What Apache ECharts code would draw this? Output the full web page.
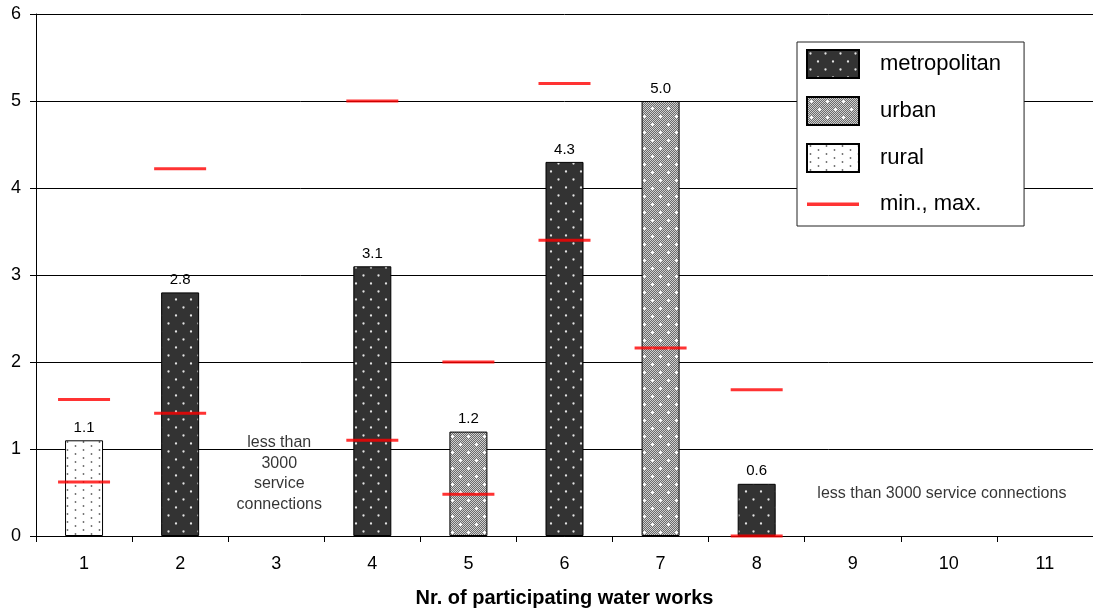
<!DOCTYPE html>
<html>
<head>
<meta charset="utf-8">
<script src="https://cdn.jsdelivr.net/npm/echarts@6/dist/echarts.min.js"></script>
<style>
  html, body { margin: 0; padding: 0; background: #fff; }
  #chart { width: 1093px; height: 610px; }
</style>
</head>
<body>
<div id="chart"></div>
<script>
// Categories: number of the participating water works
const categories = ['1', '2', '3', '4', '5', '6', '7', '8', '9', '10', '11'];

// Bar heights per size class (null where the class does not apply)
const metropolitan = [null, 2.8, null, 3.1, null, 4.3, null, 0.6, null, null, null];
const urban        = [null, null, null, null, 1.2, null, 5.0, null, null, null, null];
const rural        = [1.1, null, null, null, null, null, null, null, null, null, null];

// Range markers
const minValues = [0.62, 1.41, null, 1.10, 0.48, 3.40, 2.16, 0.0, null, null, null];
const maxValues = [1.57, 4.22, null, 5.00, 2.00, 5.20, null, 1.68, null, null, null];

// Notes for works below the size threshold
const notes = [
  { cat: '3', value: 0.72, text: 'less than\n3000\nservice\nconnections' },
  { cat: '10', value: 0.49, text: 'less than 3000 service connections' }
];

const FONT = 'Liberation Sans, Arial, Helvetica, sans-serif';

function makePattern(w, h, bg, draw) {
  const c = document.createElement('canvas');
  c.width = w; c.height = h;
  const g = c.getContext('2d');
  g.fillStyle = bg;
  g.fillRect(0, 0, w, h);
  draw(g);
  return { image: c, repeat: 'repeat' };
}

function dot(g, x, y, r, color) {
  g.fillStyle = color;
  g.beginPath();
  g.arc(x, y, r, 0, Math.PI * 2);
  g.fill();
}

// dark fill with light staggered dots
const metroFill = makePattern(15, 16, '#333333', g => {
  dot(g, 3.5, 3.5, 1.15, '#e4e4e4');
  dot(g, 11, 11.5, 1.15, '#e4e4e4');
});

// fine grey checker with white crosses
const urbanFill = makePattern(16, 16, '#9a9a9a', g => {
  for (let y = 0; y < 16; y++) {
    for (let x = 0; x < 16; x++) {
      g.fillStyle = (x + y) % 2 ? '#6a6a6a' : '#cfcfcf';
      g.fillRect(x, y, 1, 1);
    }
  }
  g.fillStyle = '#ffffff';
  [[4, 4], [12, 12]].forEach(([x, y]) => {
    g.fillRect(x - 1, y, 3, 1);
    g.fillRect(x, y - 1, 1, 3);
  });
});

// white fill with small grey dots
const ruralFill = makePattern(16, 8, '#ffffff', g => {
  dot(g, 3.5, 2, 0.9, '#6a6a6a');
  dot(g, 11.5, 6, 0.9, '#6a6a6a');
});

const barLabel = {
  show: true,
  position: 'top',
  distance: 5,
  color: '#000',
  fontFamily: FONT,
  fontSize: 15,
  formatter: p => p.value.toFixed(1)
};

function barSeries(name, data, fill) {
  return {
    name: name,
    type: 'bar',
    data: data,
    barWidth: 38,
    barGap: '-100%',
    itemStyle: { color: fill, borderColor: '#000', borderWidth: 1 },
    label: barLabel,
    emphasis: { disabled: true },
    animation: false,
    z: 2
  };
}

const rangePoints = [];
categories.forEach((c, i) => {
  if (minValues[i] !== null) rangePoints.push([c, minValues[i]]);
  if (maxValues[i] !== null) rangePoints.push([c, maxValues[i]]);
});

const chart = echarts.init(document.getElementById('chart'), null, { renderer: 'canvas' });

chart.setOption({
  backgroundColor: '#ffffff',
  animation: false,
  textStyle: { fontFamily: FONT },
  grid: { left: 36, right: 0, top: 14, bottom: 74, containLabel: false, outerBoundsMode: 'none' },
  legend: {
    orient: 'vertical',
    left: 797,
    top: 42,
    padding: [7, 23, 8, 9],
    itemWidth: 52,
    itemHeight: 28,
    itemGap: 17,
    backgroundColor: '#ffffff',
    borderColor: '#222',
    borderWidth: 1,
    selectedMode: false,
    textStyle: { fontFamily: FONT, fontSize: 22, color: '#000', padding: [0, 0, 0, 16] },
    data: [
      { name: 'metropolitan', icon: 'rect' },
      { name: 'urban', icon: 'rect' },
      { name: 'rural', icon: 'rect' },
      { name: 'min., max.', icon: 'path://M0,0 M52,28 M0,12.5 L52,12.5 L52,16 L0,16 Z' }
    ]
  },
  xAxis: {
    type: 'category',
    data: categories,
    boundaryGap: true,
    name: 'Nr. of participating water works',
    nameLocation: 'middle',
    nameGap: 52,
    nameTextStyle: { fontFamily: FONT, fontSize: 20, fontWeight: 'bold', color: '#000' },
    axisLine: { show: true, lineStyle: { color: '#000', width: 1 } },
    axisTick: { show: true, interval: 0, length: 6, lineStyle: { color: '#000' } },
    axisLabel: { interval: 0, margin: 19, fontFamily: FONT, fontSize: 18, color: '#000' },
    splitLine: { show: false }
  },
  yAxis: {
    type: 'value',
    min: 0,
    max: 6,
    interval: 1,
    axisLine: { show: true, lineStyle: { color: '#000', width: 1 } },
    axisTick: { show: true, length: 6, lineStyle: { color: '#000' } },
    axisLabel: { margin: 15, fontFamily: FONT, fontSize: 18, color: '#000' },
    splitLine: { show: true, lineStyle: { color: '#000', width: 1 } }
  },
  series: [
    barSeries('metropolitan', metropolitan, metroFill),
    barSeries('urban', urban, urbanFill),
    barSeries('rural', rural, ruralFill),
    {
      name: 'min., max.',
      type: 'scatter',
      data: rangePoints,
      symbol: 'rect',
      symbolSize: [52, 3],
      itemStyle: { color: '#ff0000' },
      emphasis: { disabled: true },
      z: 5
    },
    {
      name: 'notes',
      type: 'scatter',
      data: notes.map((n, i) => ({
        value: [n.cat, n.value],
        label: {
          show: true,
          position: 'inside',
          offset: i === 0 ? [3, 0] : [-7, 0],
          formatter: n.text,
          fontFamily: FONT,
          fontSize: 16,
          lineHeight: 20.5,
          align: 'center',
          color: '#000'
        }
      })),
      symbol: 'circle',
      symbolSize: 1,
      itemStyle: { color: 'rgba(0,0,0,0)' },
      silent: true,
      emphasis: { disabled: true },
      z: 3
    }
  ]
});
</script>
</body>
</html>
